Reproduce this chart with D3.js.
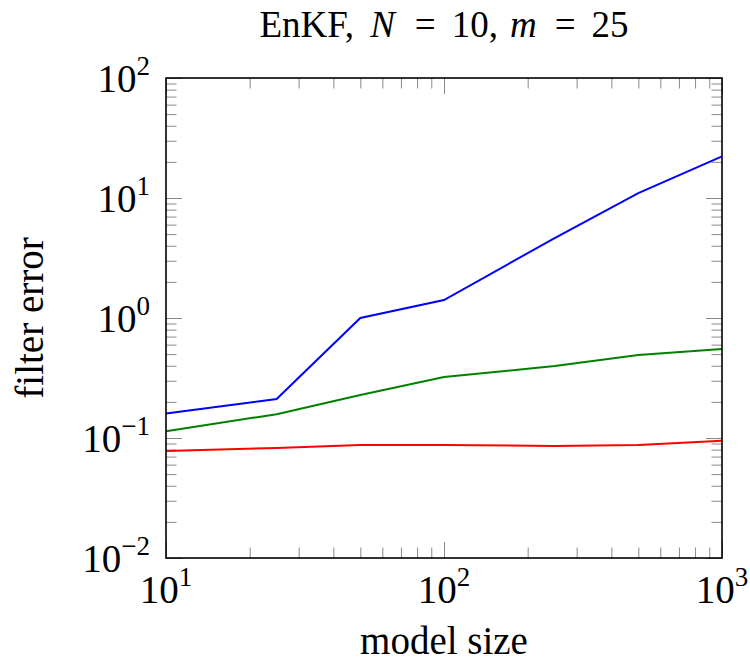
<!DOCTYPE html>
<html>
<head>
<meta charset="utf-8">
<script src="https://cdn.jsdelivr.net/npm/d3@7"></script>
<style>
  body { margin: 0; background: #fff; }
  svg { display: block; }
  text { font-family: "Liberation Serif", "Times New Roman", serif; fill: #000; }
</style>
</head>
<body>
<svg width="750" height="661"></svg>
<script>
// model sizes on the x axis
var sizes = [10, 25, 50, 100, 250, 500, 1000];
// filter error, one array per curve
var errBlue  = [0.16, 0.211, 1.0, 1.41, 4.64, 11.0, 22.2];
var errGreen = [0.114, 0.158, 0.228, 0.322, 0.398, 0.492, 0.552];
var errRed   = [0.078, 0.0826, 0.0875, 0.0875, 0.0858, 0.0875, 0.095];

var xDecades = [1, 2, 3];        // 10^1 .. 10^3
var yDecades = [-2, -1, 0, 1, 2]; // 10^-2 .. 10^2

var svg = d3.select("svg");
// plot box (note: "top" is taken by window.top)
var pL = 166, pR = 722, pT = 78, pB = 558;

var x = d3.scaleLog().domain([10, 1000]).range([pL, pR]);
var y = d3.scaleLog().domain([0.01, 100]).range([pB, pT]);

// minor ticks 2..9 in each decade
function minors(dom){
    var out = [];
    for (var p = Math.log10(dom[0]); p < Math.log10(dom[1]); p++)
        for (var k = 2; k <= 9; k++) out.push(k * Math.pow(10, p));
    return out;
}
var xMajor = xDecades.map(d => Math.pow(10, d)),
    yMajor = yDecades.map(d => Math.pow(10, d));

function tickAxis(axisFn, scale, vals, len, tx, ty){
    var g = svg.append("g")
        .attr("transform", "translate(" + tx + "," + ty + ")")
        .call(axisFn(scale).tickValues(vals).tickSize(-len).tickFormat(""));
    g.select(".domain").remove();
    g.selectAll("line").attr("stroke", "#8a8a8a").attr("stroke-width", 1);
}
tickAxis(d3.axisBottom, x, minors(x.domain()), 10.5, 0, pB);
tickAxis(d3.axisTop, x, minors(x.domain()), 10.5, 0, pT);
tickAxis(d3.axisLeft, y, minors(y.domain()), 10.5, pL, 0);
tickAxis(d3.axisRight, y, minors(y.domain()), 10.5, pR, 0);
tickAxis(d3.axisBottom, x, xMajor, 16, 0, pB);
tickAxis(d3.axisTop, x, xMajor, 16, 0, pT);
tickAxis(d3.axisLeft, y, yMajor, 16, pL, 0);
tickAxis(d3.axisRight, y, yMajor, 16, pR, 0);

// curves
var line = d3.line()
    .x(d => x(d[0]))
    .y(d => y(d[1]));

[[errRed, "#ff0000"], [errGreen, "#008000"], [errBlue, "#0000ff"]].forEach(function(s){
    svg.append("path")
        .datum(d3.zip(sizes, s[0]))
        .attr("fill", "none")
        .attr("stroke", s[1])
        .attr("stroke-width", 2)
        .attr("d", line);
});

// frame
svg.append("rect")
    .attr("x", pL).attr("y", pT)
    .attr("width", pR - pL).attr("height", pB - pT)
    .attr("fill", "none")
    .attr("stroke", "#000")
    .attr("stroke-width", 1.6);

// power-of-ten labels
function pow10(sel, e){
    sel.append("tspan").text("10");
    sel.append("tspan")
        .attr("dy", -17)
        .attr("font-size", 27)
        .text(e < 0 ? "\u2212" + (-e) : e);
}
xDecades.forEach(function(e){
    svg.append("text")
        .attr("x", x(Math.pow(10, e)))
        .attr("y", 603)
        .attr("text-anchor", "middle")
        .attr("font-size", 39)
        .call(pow10, e);
});
yDecades.forEach(function(e){
    svg.append("text")
        .attr("x", 150)
        .attr("y", y(Math.pow(10, e)) + 14)
        .attr("text-anchor", "end")
        .attr("font-size", 39)
        .call(pow10, e);
});

// axis titles
svg.append("text")
    .attr("x", (pL + pR) / 2)
    .attr("y", 654)
    .attr("text-anchor", "middle")
    .attr("font-size", 39)
    .text("model size");

svg.append("text")
    .attr("transform", "translate(43," + (pT + pB) / 2 + ") rotate(-90)")
    .attr("text-anchor", "middle")
    .attr("font-size", 39)
    .text("filter error");

// title: EnKF, N = 10, m = 25
var title = svg.append("text")
    .attr("x", (pL + pR) / 2)
    .attr("y", 37)
    .attr("text-anchor", "middle")
    .attr("font-size", 37);
title.append("tspan").text("EnKF,");
title.append("tspan").attr("dx", 16).attr("font-style", "italic").text("N");
title.append("tspan").attr("dx", 20).text("=");
title.append("tspan").attr("dx", 16).text("10,");
title.append("tspan").attr("dx", 12).attr("font-style", "italic").text("m");
title.append("tspan").attr("dx", 18).text("=");
title.append("tspan").attr("dx", 16).text("25");
</script>
</body>
</html>
